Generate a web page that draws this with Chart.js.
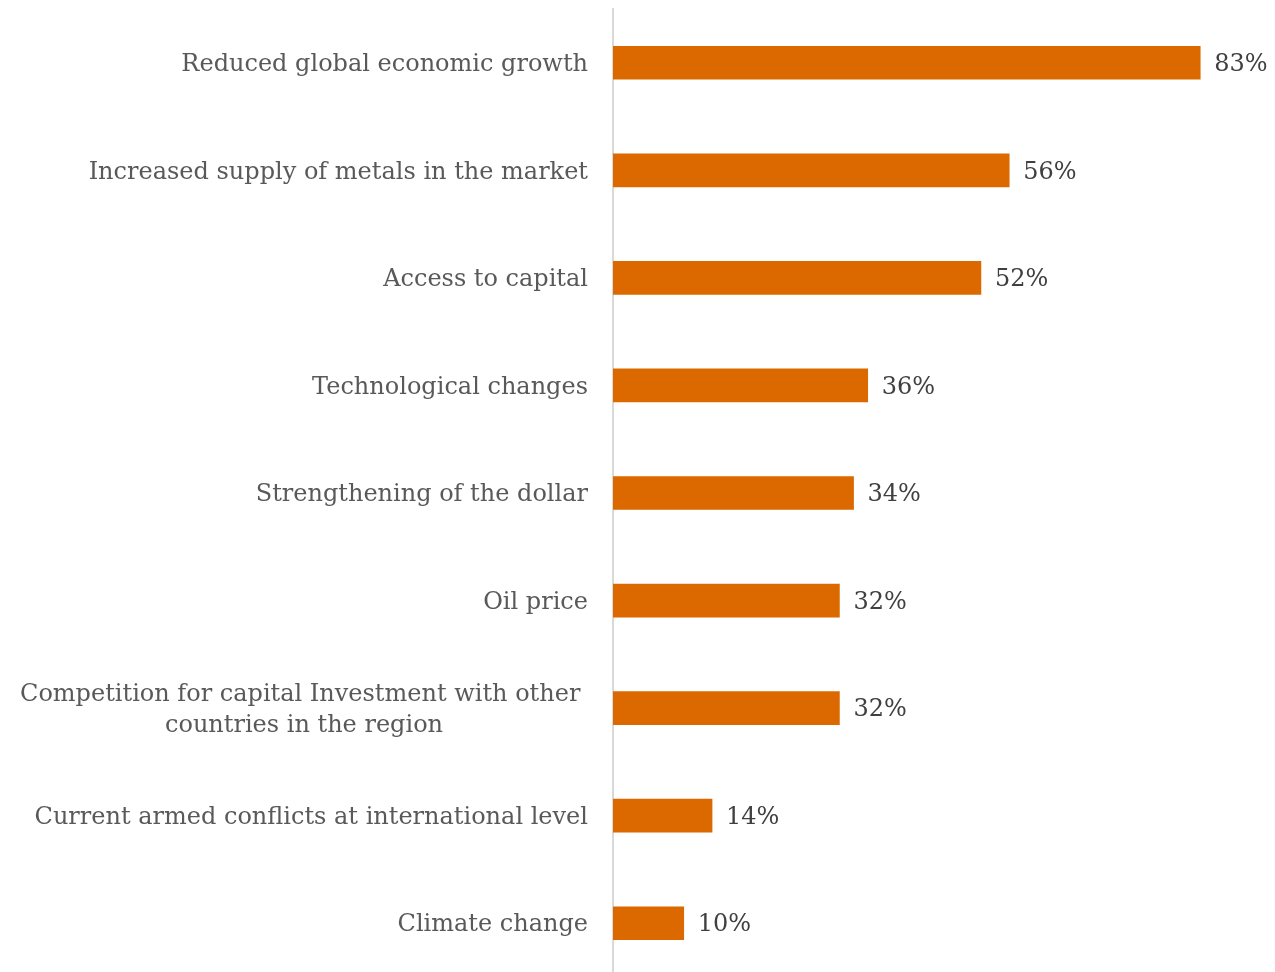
<!DOCTYPE html>
<html>
<head>
<meta charset="utf-8">
<script src="https://cdn.jsdelivr.net/npm/chart.js@4.4.1/dist/chart.umd.min.js"></script>
<style>
  html, body { margin: 0; padding: 0; background: #ffffff; overflow: hidden; }
  #wrap { position: relative; width: 1275px; height: 980px; }
</style>
</head>
<body>
<div id="wrap"><canvas id="chart"></canvas></div>
<script>
// Factors affecting the sector, share of respondents (%)
const categories = [
  ['Reduced global economic growth'],
  ['Increased supply of metals in the market'],
  ['Access to capital'],
  ['Technological changes'],
  ['Strengthening of the dollar'],
  ['Oil price'],
  ['Competition for capital Investment with other ', 'countries in the region'],
  ['Current armed conflicts at international level'],
  ['Climate change']
];
const shares = [83, 56, 52, 36, 34, 32, 32, 14, 10];
const valueLabels = ['83%', '56%', '52%', '36%', '34%', '32%', '32%', '14%', '10%'];

const FONT_FAMILY = '"DejaVu Serif", "Liberation Serif", serif';
const LABEL_COLOR = '#595959';
const VALUE_COLOR = '#404040';
const BAR_COLOR = '#DC6900';

// Pick a font size so the longest single-line label spans ~407px
const probe = document.createElement('canvas').getContext('2d');
probe.font = '100px ' + FONT_FAMILY;
const fontSize = Math.round(407 / probe.measureText('Reduced global economic growth').width * 100 * 10) / 10;

const labelPlugin = {
  id: 'labelPlugin',
  afterDatasetsDraw(chart) {
    const { ctx, chartArea, scales } = chart;
    const yScale = scales.y;
    const dy = 2;
    ctx.save();
    ctx.font = fontSize + 'px ' + FONT_FAMILY;
    ctx.textBaseline = 'middle';

    // Category labels to the left of the axis
    categories.forEach((lines, i) => {
      const y = yScale.getPixelForTick(i) + dy;
      ctx.fillStyle = LABEL_COLOR;
      if (lines.length === 1) {
        ctx.textAlign = 'right';
        ctx.fillText(lines[0], chartArea.left - 25, y);
      } else {
        const widths = lines.map(l => ctx.measureText(l).width);
        const wMax = Math.max(...widths);
        const cx = chartArea.left - 25 - wMax / 2;
        const lh = 31;
        const top = y - (lines.length - 1) * lh / 2;
        ctx.textAlign = 'center';
        lines.forEach((l, k) => ctx.fillText(l, cx, top + k * lh));
      }
    });

    // Value labels at the end of each bar
    const meta = chart.getDatasetMeta(0);
    ctx.textAlign = 'left';
    ctx.fillStyle = VALUE_COLOR;
    meta.data.forEach((bar, i) => {
      ctx.fillText(valueLabels[i], bar.x + 14, bar.y + dy);
    });
    ctx.restore();
  }
};

new Chart(document.getElementById('chart'), {
  type: 'bar',
  data: {
    labels: categories,
    datasets: [{
      data: shares,
      backgroundColor: BAR_COLOR,
      borderWidth: 0,
      barThickness: 33
    }]
  },
  options: {
    indexAxis: 'y',
    responsive: true,
    maintainAspectRatio: false,
    animation: false,
    layout: { padding: { left: 613, right: 4, top: 9, bottom: 3 } },
    plugins: { legend: { display: false }, tooltip: { enabled: false } },
    scales: {
      x: {
        min: 0,
        max: 93,
        display: false,
        grid: { display: false }
      },
      y: {
        grid: { display: false, drawTicks: false },
        border: { display: true, color: '#d9d9d9', width: 2 },
        ticks: { display: false }
      }
    }
  },
  plugins: [labelPlugin]
});
</script>
</body>
</html>
